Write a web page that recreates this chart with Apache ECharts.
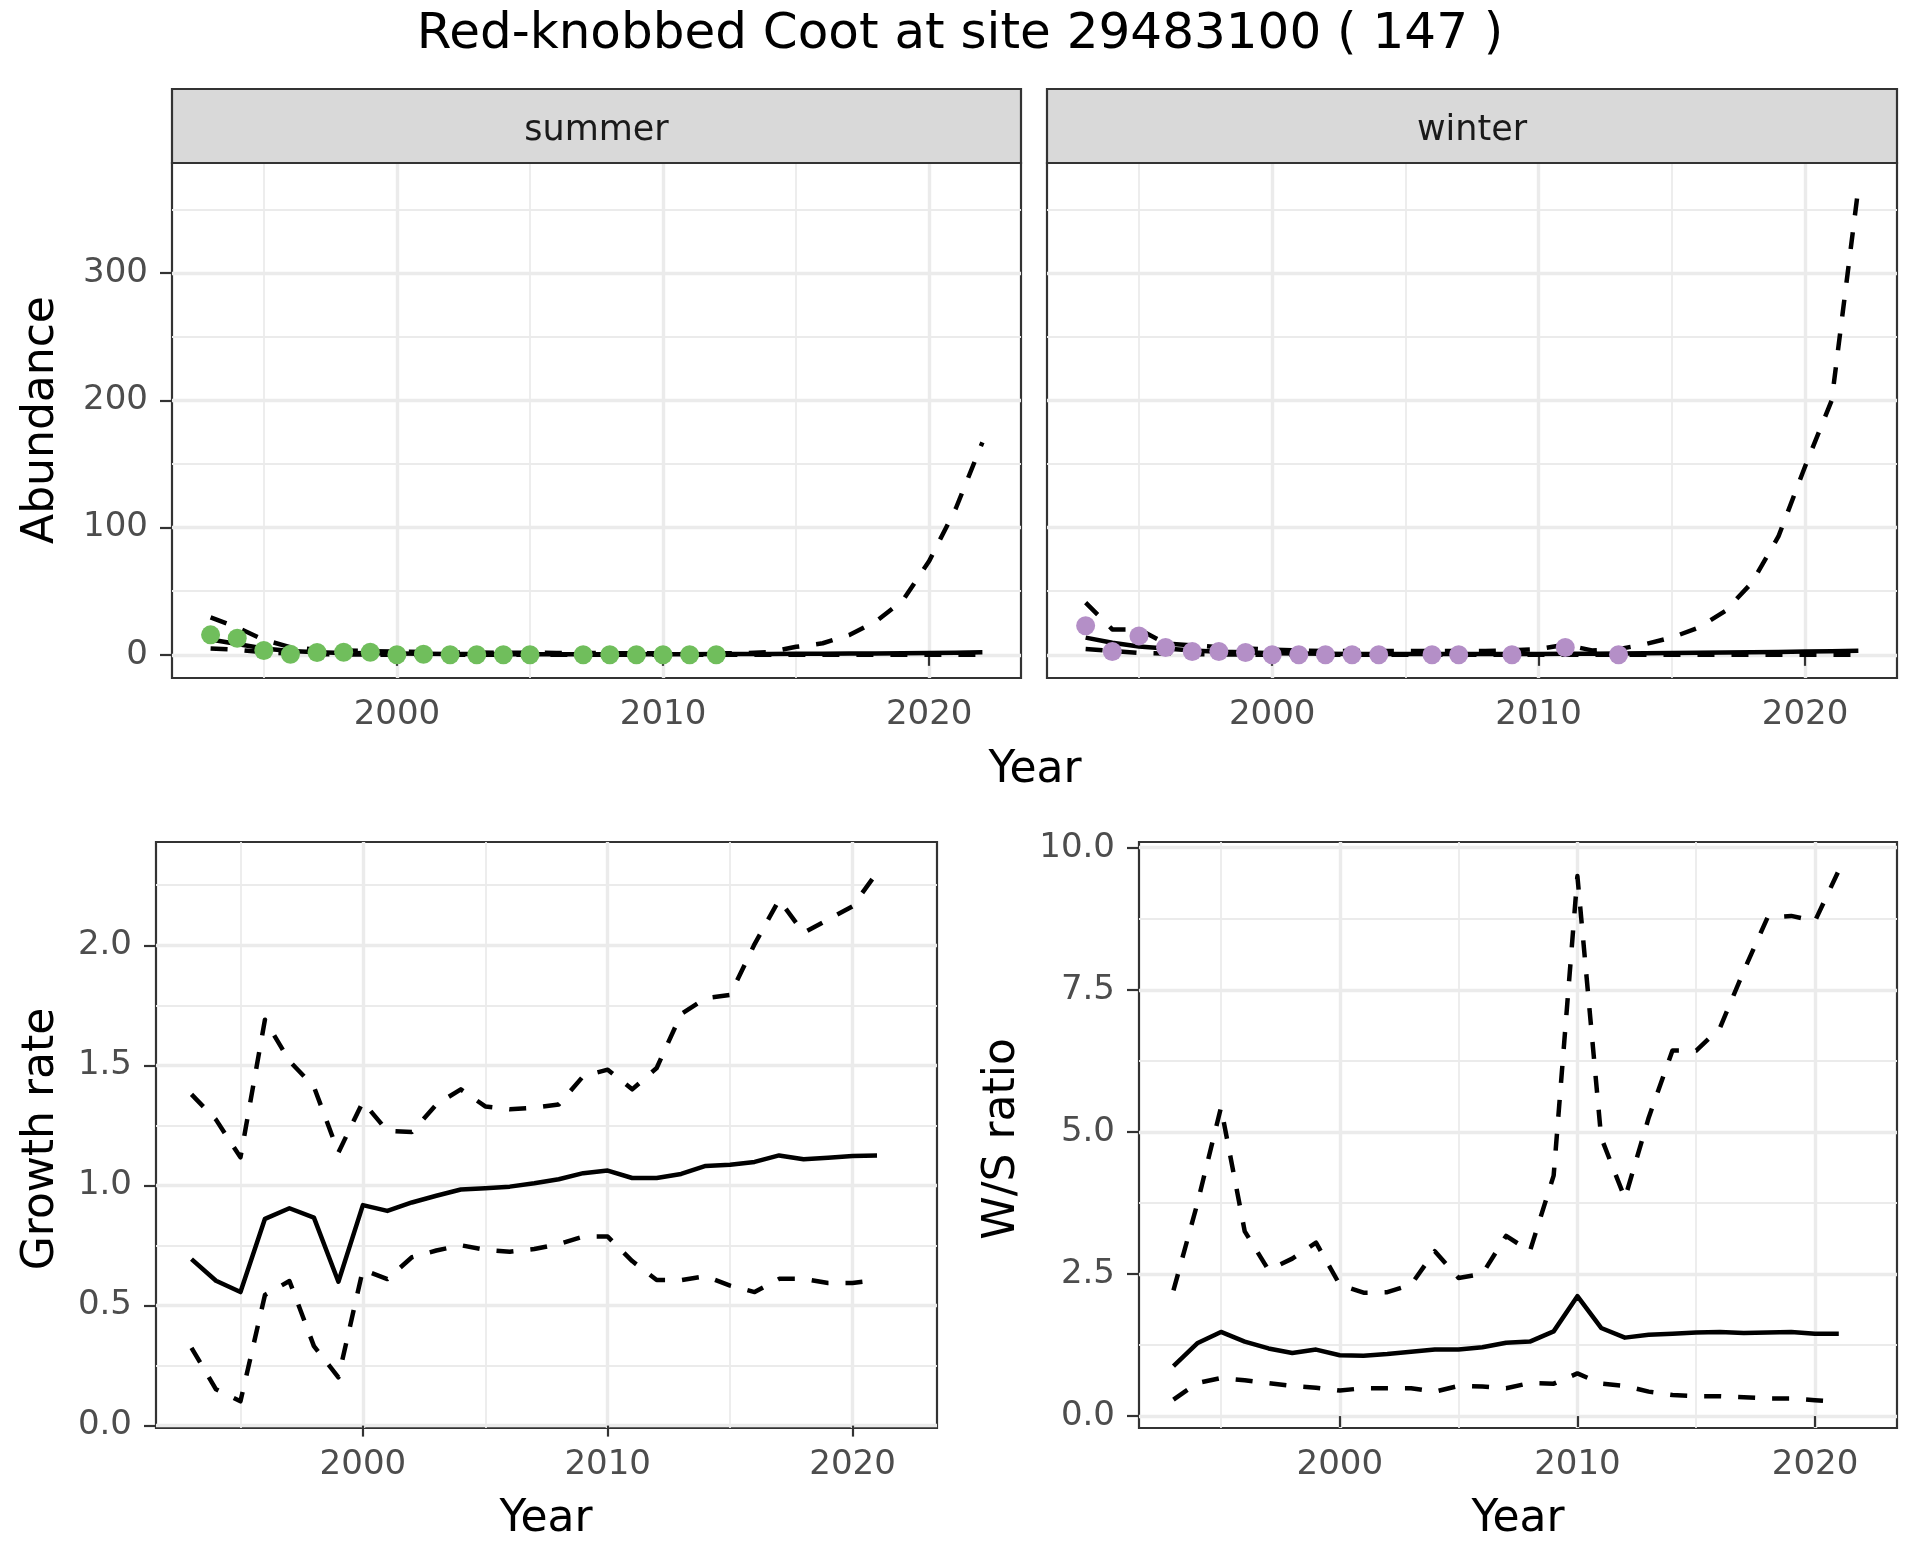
<!DOCTYPE html>
<html>
<head>
<meta charset="utf-8">
<script src="https://cdn.jsdelivr.net/npm/echarts@6/dist/echarts.min.js"></script>
<style>html,body{margin:0;padding:0;background:#fff}#c{width:1920px;height:1560px}</style>
</head>
<body>
<div id="c"></div>
<script>
// ---------- DATA ----------
const title = 'Red-knobbed Coot at site 29483100 ( 147 )';
const seasons = ['summer', 'winter'];

const fitYears = [1993,1994,1995,1996,1997,1998,1999,2000,2001,2002,2003,2004,2005,2006,2007,2008,2009,2010,2011,2012,2013,2014,2015,2016,2017,2018,2019,2020,2021,2022];

const summerCountYears = [1993,1994,1995,1996,1997,1998,1999,2000,2001,2002,2003,2004,2005,2007,2008,2009,2010,2011,2012];
const summerCounts     = [15.7,13,3.4,0.5,1.8,2.1,2.1,0,0.5,0,0,0,0,0,0,0,0,0,0];
const summerMean  = [12,8.5,5,3,2,1.5,1.2,1,0.8,0.7,0.6,0.5,0.5,0.5,0.5,0.5,0.5,0.5,0.5,0.6,0.6,0.7,0.8,0.9,1.0,1.1,1.3,1.5,1.7,2.0];
const summerUpper = [29.5,21.5,11.8,6,4,3.5,3,2.5,2.2,2,1.8,1.7,1.6,1.5,1.4,1.3,1.2,1.2,1.2,1.2,1.3,2.1,6.3,9.1,15.6,26.3,42.4,73.7,115,167];
const summerLower = [5,4,2,1,0.5,0.3,0.2,0.1,0.1,0.05,0.05,0,0,0,0,0,0,0,0,0,0,0,0,0,0,0,0,0,0,0];

const winterCountYears = [1993,1994,1995,1996,1997,1998,1999,2000,2001,2002,2003,2004,2006,2007,2009,2011,2013];
const winterCounts     = [22.8,2.6,14.9,5.8,2.6,2.6,1.8,0,0,0,0,0,0,0,0,5.7,0];
const winterMean  = [13.5,9.5,6.5,5,3.5,2.5,2,1.2,1,0.8,0.7,0.6,0.6,0.6,0.6,0.6,0.6,0.7,0.8,0.9,1.0,1.2,1.4,1.6,1.8,2.0,2.3,2.6,2.9,3.3];
const winterUpper = [41,20,20,9,7.5,6,5,4,3.5,3,3,3,3,3,3,3,3.5,4.5,8,3.5,4.5,8.4,13.6,21.4,34.4,56.6,93,148,200,367];
const winterLower = [4.5,3,1.5,1,0.5,0.3,0.2,0.1,0.1,0.05,0,0,0,0,0,0,0,0,0,0,0,0,0,0,0,0,0,0,0,0];

const rateYears = [1993,1994,1995,1996,1997,1998,1999,2000,2001,2002,2003,2004,2005,2006,2007,2008,2009,2010,2011,2012,2013,2014,2015,2016,2017,2018,2019,2020,2021];
const growthMean  = [0.693,0.603,0.556,0.861,0.905,0.866,0.599,0.918,0.894,0.929,0.957,0.983,0.988,0.995,1.009,1.026,1.051,1.062,1.031,1.031,1.048,1.081,1.086,1.098,1.125,1.109,1.115,1.123,1.125];
const growthUpper = [1.379,1.274,1.117,1.690,1.518,1.411,1.137,1.348,1.227,1.222,1.337,1.400,1.329,1.317,1.324,1.337,1.455,1.482,1.400,1.489,1.714,1.780,1.793,2.005,2.189,2.052,2.107,2.162,2.303];
const growthLower = [0.324,0.151,0.101,0.544,0.602,0.331,0.201,0.649,0.610,0.701,0.729,0.751,0.732,0.724,0.735,0.756,0.787,0.787,0.685,0.606,0.606,0.622,0.583,0.556,0.611,0.611,0.594,0.594,0.606];

const ratioMean  = [0.88,1.28,1.48,1.31,1.19,1.11,1.17,1.07,1.06,1.09,1.13,1.17,1.17,1.21,1.29,1.31,1.49,2.11,1.55,1.38,1.43,1.45,1.47,1.48,1.46,1.47,1.48,1.45,1.45];
const ratioUpper = [2.21,3.73,5.43,3.25,2.57,2.77,3.05,2.31,2.17,2.18,2.31,2.90,2.43,2.50,3.17,2.90,4.23,9.50,4.90,3.83,5.25,6.43,6.43,6.83,7.83,8.77,8.80,8.71,9.60];
const ratioLower = [0.29,0.58,0.67,0.63,0.58,0.53,0.50,0.45,0.49,0.49,0.49,0.43,0.53,0.52,0.49,0.58,0.57,0.75,0.57,0.53,0.43,0.37,0.35,0.35,0.33,0.31,0.31,0.28,0.25];

const yearTicks = [2000, 2010, 2020];
const yearMinorTicks = [1995, 2005, 2015];
const abundanceTicks = [0, 100, 200, 300];
const abundanceMinorTicks = [50, 150, 250, 350];
const growthTicks = [0, 0.5, 1, 1.5, 2];
const growthMinorTicks = [0.25, 0.75, 1.25, 1.75, 2.25];
const ratioTicks = [0, 2.5, 5, 7.5, 10];
const ratioMinorTicks = [1.25, 3.75, 6.25, 8.75];

// ---------- STYLE / LAYOUT ----------
const FONT = '"DejaVu Sans"';
const pts = ['#70BE5C', '#B48FC7'];
const grids = [
  {left:172, top:163, width:849, height:515},
  {left:1047, top:163, width:850, height:515},
  {left:156, top:842, width:781, height:586},
  {left:1139, top:842, width:758, height:586}
];
const xRange = [1991.55, 2023.45];
const yRanges = [[-18.2, 386.5], [-18.2, 386.5], [-0.01, 2.43], [-0.21, 10.1]];
const yMajors = [abundanceTicks, abundanceTicks, growthTicks, ratioTicks];
const yMinors = [abundanceMinorTicks, abundanceMinorTicks, growthMinorTicks, ratioMinorTicks];
const yFmt = [v => String(v), v => String(v), v => v.toFixed(1), v => v.toFixed(1)];

const xAxes = [], yAxes = [];
grids.forEach((g, i) => {
  xAxes.push({
    type:'value', gridIndex:i, min:xRange[0], max:xRange[1], position:'bottom',
    axisLine:{show:false},
    axisTick:{show:true, length:11, customValues:yearTicks, lineStyle:{color:'#333333', width:2.2}},
    axisLabel:{show:true, customValues:yearTicks, formatter:v => String(v), color:'#4D4D4D', fontSize:34, fontFamily:FONT, margin:20},
    splitLine:{show:true, lineStyle:{color:'#EBEBEB', width:3.4}}
  });
  xAxes.push({
    type:'value', gridIndex:i, min:xRange[0], max:xRange[1], position:'top',
    axisLine:{show:false},
    axisTick:{show:false, customValues:yearMinorTicks},
    axisLabel:{show:false, customValues:yearMinorTicks},
    splitLine:{show:true, lineStyle:{color:'#EBEBEB', width:1.8}}
  });
  const hideLabels = (i === 1);
  yAxes.push({
    type:'value', gridIndex:i, min:yRanges[i][0], max:yRanges[i][1], position:'left',
    axisLine:{show:false},
    axisTick:{show:!hideLabels, length:12, customValues:yMajors[i], lineStyle:{color:'#333333', width:2.2}},
    axisLabel:{show:!hideLabels, customValues:yMajors[i], formatter:yFmt[i], color:'#4D4D4D', fontSize:34, fontFamily:FONT, margin:24},
    splitLine:{show:true, lineStyle:{color:'#EBEBEB', width:3.4}}
  });
  yAxes.push({
    type:'value', gridIndex:i, min:yRanges[i][0], max:yRanges[i][1], position:'right',
    axisLine:{show:false},
    axisTick:{show:false, customValues:yMinors[i]},
    axisLabel:{show:false, customValues:yMinors[i]},
    splitLine:{show:true, lineStyle:{color:'#EBEBEB', width:1.8}}
  });
});

const pair = (xs, ys) => xs.map((x, k) => [x, ys[k]]);
function lineSeries(gi, xs, ys, dashed) {
  return {
    type:'line', xAxisIndex:2*gi, yAxisIndex:2*gi, data:pair(xs, ys),
    showSymbol:false, symbol:'none', silent:true, animation:false, z:3,
    lineStyle:{color:'#000', width:4.5, type: dashed ? [17,17] : 'solid', cap:'butt', join:'round'}
  };
}
function pointSeries(gi, xs, ys, color) {
  return {
    type:'scatter', xAxisIndex:2*gi, yAxisIndex:2*gi, data:pair(xs, ys),
    symbol:'circle', symbolSize:19, itemStyle:{color:color, opacity:1}, z:5, animation:false, silent:true
  };
}

const series = [
  lineSeries(0, fitYears, summerUpper, true),
  lineSeries(0, fitYears, summerLower, true),
  lineSeries(0, fitYears, summerMean, false),
  pointSeries(0, summerCountYears, summerCounts, pts[0]),
  lineSeries(1, fitYears, winterUpper, true),
  lineSeries(1, fitYears, winterLower, true),
  lineSeries(1, fitYears, winterMean, false),
  pointSeries(1, winterCountYears, winterCounts, pts[1]),
  lineSeries(2, rateYears, growthUpper, true),
  lineSeries(2, rateYears, growthLower, true),
  lineSeries(2, rateYears, growthMean, false),
  lineSeries(3, rateYears, ratioUpper, true),
  lineSeries(3, rateYears, ratioLower, true),
  lineSeries(3, rateYears, ratioMean, false)
];

const txt = (text, x, y, size, color, rot) => ({
  type:'text', x:x, y:y, rotation: rot || 0, silent:true, z:10,
  style:{text:text, fill:color, font: size + 'px ' + FONT, textAlign:'center', textVerticalAlign:'middle'}
});

const graphics = [
  txt(title, 960, 35, 50, '#000'),
  txt('Year', 1035, 771, 44, '#000'),
  txt('Abundance', 41.5, 420, 44, '#000', Math.PI/2),
  txt('Growth rate', 41.5, 1139, 44, '#000', Math.PI/2),
  txt('W/S ratio', 1003, 1139, 44, '#000', Math.PI/2),
  txt('Year', 546, 1520, 44, '#000'),
  txt('Year', 1518, 1520, 44, '#000')
];
[0, 1].forEach(i => {
  const g = grids[i];
  graphics.push({type:'rect', silent:true, z:9, shape:{x:g.left, y:89, width:g.width, height:g.top - 89},
    style:{fill:'#D9D9D9', stroke:'#333333', lineWidth:2.2}});
  graphics.push(txt(seasons[i], g.left + g.width/2, 130.5, 35, '#1A1A1A'));
});

const chart = echarts.init(document.getElementById('c'), null, {renderer:'canvas', width:1920, height:1560});
chart.setOption({
  backgroundColor:'#ffffff',
  animation:false,
  grid: grids.map(g => Object.assign({show:true, borderColor:'#333333', borderWidth:2.2, backgroundColor:'#ffffff', z:0}, g)),
  xAxis: xAxes,
  yAxis: yAxes,
  series: series,
  graphic: graphics
});
</script>
</body>
</html>
